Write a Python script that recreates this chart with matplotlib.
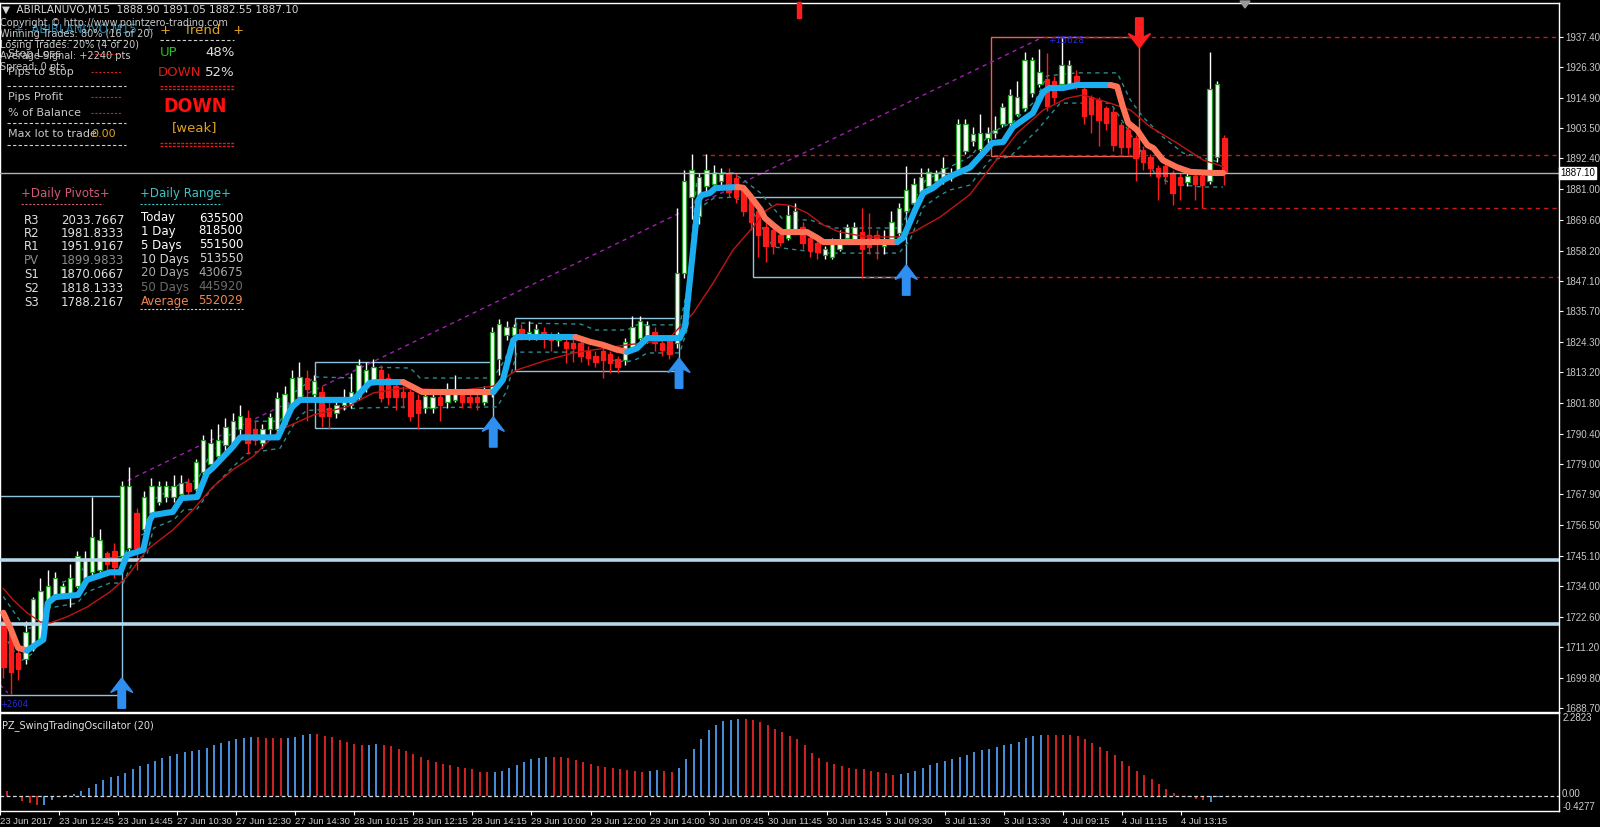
# %%
import numpy as np
import matplotlib
matplotlib.use('Agg')
from matplotlib import pyplot as plt
from matplotlib.patches import Rectangle, Polygon
from matplotlib.lines import Line2D

plt.rcParams['font.family'] = ['DejaVu Sans']

# %% data (ABIRLANUVO, M15)
opens = [1721, 1717, 1709, 1707, 1711, 1714, 1726, 1730, 1731, 1731,
         1734, 1737, 1739, 1740, 1746, 1747, 1745, 1748, 1761, 1755,
         1761, 1765, 1767, 1767, 1768, 1772, 1770, 1776, 1779, 1782,
         1786, 1787, 1792, 1796, 1792, 1787, 1792, 1792, 1794, 1800,
         1804, 1811, 1805, 1806, 1800, 1798, 1801, 1801, 1804, 1807.5,
         1810, 1814, 1811, 1808, 1806, 1806, 1803, 1800, 1800, 1804,
         1802, 1803, 1805, 1804, 1804, 1802, 1805, 1818, 1827, 1827,
         1829, 1826, 1827, 1828, 1827, 1825, 1824.5, 1824, 1824, 1821,
         1819, 1821, 1820, 1818, 1817.5, 1822, 1826, 1826, 1828, 1824,
         1825, 1824, 1850, 1878, 1871, 1882, 1883, 1884, 1887, 1885,
         1881, 1878, 1873, 1867, 1866, 1864, 1863, 1866, 1867, 1863,
         1861, 1856.6, 1856, 1859, 1863, 1862, 1865, 1864, 1864, 1860,
         1862, 1864.6, 1873, 1876, 1880, 1882, 1884, 1884, 1885, 1888,
         1895, 1899, 1896, 1900, 1902, 1905, 1905.5, 1909, 1911, 1916.6,
         1920, 1922, 1921, 1920, 1920, 1923, 1918, 1915, 1914, 1911,
         1909.6, 1904.8, 1903, 1900, 1895.5, 1893, 1889, 1889.5, 1887, 1885.5,
         1883.6, 1886, 1886, 1884, 1893, 1900]
highs = [1724, 1719, 1712, 1721, 1730, 1737, 1740, 1739, 1735, 1742,
         1747, 1747, 1767, 1755, 1747, 1750, 1773, 1778, 1763, 1769,
         1774, 1773, 1773, 1775, 1775, 1774, 1781, 1790, 1792, 1794,
         1796, 1798, 1801, 1799, 1795, 1794, 1798, 1806, 1808, 1814,
         1817, 1814, 1812, 1808, 1802, 1803, 1807, 1813, 1818, 1817,
         1818, 1816, 1813, 1810, 1808, 1807, 1805, 1806, 1806, 1806,
         1809, 1812, 1807, 1806, 1806, 1808, 1830, 1833, 1832, 1831,
         1831, 1832, 1831, 1830, 1828, 1828, 1826, 1826, 1825, 1823,
         1821, 1822, 1821, 1819, 1826, 1834, 1834, 1832, 1830, 1826,
         1827, 1874, 1888, 1894, 1887, 1894, 1890, 1889, 1889, 1887,
         1882, 1879, 1875, 1869, 1867, 1866, 1875, 1876, 1869, 1864,
         1862, 1860, 1863, 1866, 1868, 1869, 1874, 1872, 1866, 1866,
         1873, 1876, 1889.6, 1885, 1889, 1889, 1888, 1893, 1889, 1907,
         1907, 1904, 1909, 1904, 1908, 1913, 1918, 1921, 1932, 1930,
         1933, 1931.4, 1923, 1937.4, 1929, 1925, 1919, 1916, 1915, 1912,
         1911, 1906, 1905, 1901, 1897, 1894, 1890, 1891, 1888, 1887,
         1888, 1887, 1887, 1931.8, 1921, 1901]
lows = [1700, 1694, 1699, 1705, 1710, 1713, 1725, 1729, 1730, 1726,
        1733, 1735, 1738, 1739, 1738, 1737, 1743, 1745, 1740, 1754,
        1760, 1764, 1765, 1765, 1767, 1768, 1769, 1775, 1778, 1781,
        1784, 1785, 1790, 1783, 1786, 1785, 1790, 1791, 1793, 1799,
        1802, 1795, 1803, 1793, 1792, 1796, 1799, 1800, 1803, 1806,
        1809, 1802, 1801, 1799, 1800, 1795, 1792, 1798, 1798, 1795,
        1800, 1802, 1800, 1800, 1799, 1801, 1804, 1812, 1825, 1825,
        1825, 1825, 1825, 1822, 1821, 1823, 1816.5, 1817, 1817, 1816,
        1815, 1811, 1813, 1813, 1816, 1821, 1825, 1824, 1821, 1819,
        1818, 1822, 1848, 1870, 1868, 1880, 1881, 1882, 1878, 1876,
        1871, 1866, 1856, 1854, 1857, 1860, 1862, 1865, 1859, 1856,
        1855, 1855, 1855, 1858, 1862, 1861, 1848, 1857, 1855, 1857,
        1861, 1863, 1872, 1875, 1879, 1881, 1883, 1883, 1884, 1887,
        1894, 1897, 1895, 1898, 1900, 1904, 1904, 1908, 1910, 1915,
        1919, 1910, 1913, 1919, 1919, 1918, 1905, 1902, 1897, 1903,
        1895, 1894, 1894, 1884, 1888, 1886, 1877, 1883, 1875, 1877,
        1882, 1877, 1874, 1883, 1891, 1882.5]
closes = [1704, 1702, 1703, 1717, 1729, 1732, 1734, 1737, 1734, 1737,
          1745, 1744, 1752, 1751, 1742, 1741, 1771, 1771, 1748, 1767,
          1771, 1771, 1771, 1771, 1772, 1769, 1780, 1788, 1787, 1788,
          1793, 1795, 1797, 1787, 1788, 1792, 1796.5, 1803.5, 1805, 1811,
          1811.5, 1807, 1810, 1797, 1797, 1801, 1803, 1806, 1816, 1814,
          1815, 1803.5, 1804, 1804, 1804, 1797, 1798, 1804.5, 1804, 1801,
          1807, 1806, 1802, 1802, 1802, 1806, 1828, 1831, 1830, 1830,
          1827, 1828, 1829, 1827, 1825, 1826, 1822, 1822, 1819, 1818.5,
          1817, 1817.5, 1816.5, 1815, 1824.5, 1830, 1832, 1830.5, 1824, 1821.5,
          1820, 1850, 1884, 1888, 1885.5, 1888, 1887, 1886.5, 1880, 1878,
          1873, 1869, 1864, 1860, 1860, 1861.5, 1871.5, 1873, 1861, 1858.5,
          1857.7, 1859, 1862, 1862, 1867, 1867, 1859, 1859.6, 1861, 1862,
          1869, 1874, 1880.7, 1883, 1885.5, 1887.4, 1887, 1889, 1887, 1905,
          1905, 1901.5, 1902, 1902, 1903, 1911.3, 1915.9, 1915, 1929, 1929,
          1924.3, 1912, 1915, 1927, 1927, 1919.6, 1908, 1909, 1906.6, 1905.5,
          1897.4, 1896.6, 1896.6, 1892.5, 1891, 1889, 1886, 1886, 1879.6, 1882.5,
          1886, 1883, 1882.5, 1918, 1920, 1887.1]

# swing trading oscillator, one bar per candle; 1 = blue (rising), 0 = red
osc_values = [0.12, -0.05, -0.15, -0.2, -0.27, -0.25, -0.13, -0.02, 0.02, 0.05,
              0.12, 0.2, 0.32, 0.43, 0.5, 0.55, 0.63, 0.73, 0.81, 0.88,
              0.96, 1.03, 1.1, 1.16, 1.21, 1.23, 1.25, 1.32, 1.4, 1.46,
              1.51, 1.56, 1.6, 1.63, 1.63, 1.6, 1.58, 1.58, 1.59, 1.63,
              1.67, 1.7, 1.7, 1.65, 1.61, 1.54, 1.48, 1.43, 1.4, 1.41,
              1.43, 1.4, 1.37, 1.3, 1.24, 1.16, 1.07, 0.98, 0.92, 0.87,
              0.84, 0.79, 0.76, 0.72, 0.65, 0.64, 0.65, 0.68, 0.76, 0.85,
              0.92, 1.0, 1.05, 1.07, 1.07, 1.06, 1.03, 0.98, 0.93, 0.88,
              0.82, 0.78, 0.75, 0.72, 0.7, 0.68, 0.66, 0.68, 0.7, 0.68,
              0.64, 0.77, 1.0, 1.3, 1.55, 1.8, 1.95, 2.05, 2.1, 2.12,
              2.13, 2.1, 2.03, 1.95, 1.85, 1.75, 1.65, 1.55, 1.39, 1.18,
              1.03, 0.94, 0.87, 0.81, 0.76, 0.74, 0.72, 0.67, 0.65, 0.61,
              0.58, 0.6, 0.63, 0.69, 0.76, 0.85, 0.9, 0.96, 1.0, 1.07,
              1.12, 1.21, 1.25, 1.3, 1.34, 1.39, 1.43, 1.48, 1.58, 1.66,
              1.68, 1.68, 1.68, 1.68, 1.68, 1.66, 1.57, 1.45, 1.34, 1.24,
              1.12, 0.96, 0.82, 0.69, 0.56, 0.45, 0.31, 0.18, 0.06, -0.02,
              -0.05, -0.09, -0.13, -0.18, -0.05, -0.02]
osc_rising = [0] * 5 + [1] * 29 + [0] * 4 + [1] * 4 + [0] * 7 + [1] * 2 + [0] * 15 + \
             [1] * 8 + [0] * 13 + [1] * 2 + [0] * 2 + [1] * 9 + [0] * 21 + [1] * 20 + \
             [0] * 22 + [1] * 3

# thick trend line (corner points), colour flips at these x
trend_x = [0, 1, 2, 3.2, 5.4, 6, 7, 10.1, 11.3, 14.4, 15.8, 16.7, 18.9, 19.8, 20.2, 22.9,
           24.1, 26.2, 27.5, 28.3, 31, 32, 37.1, 39, 40.1, 47.3, 49.5, 50.5, 54, 55.6,
           56.6, 66.2, 67.5, 68.9, 69.4, 77.3, 79.3, 81, 82.9, 84.3, 85.6, 87, 91.4, 92.1,
           93.2, 93.9, 94.4, 95.5, 96.2, 99.2, 100, 100.9, 102.3, 102.9, 104, 105.2, 108.6,
           110, 110.8, 120.8, 121.6, 123.2, 124.3, 125.6, 127, 128.3, 130.6, 132.4, 133.6,
           135.1, 136.4, 139.1, 140.5, 141.4, 143.2, 145.1, 149.6, 150.5, 151.3, 152, 153.2,
           154.6, 155.4, 156.7, 158.6, 160.4, 163.5, 164.8]
trend_y = [1724, 1718, 1711, 1710, 1714, 1727.6, 1729.8, 1730.6, 1736.2, 1739, 1739, 1745.4,
           1747.3, 1758.4, 1760.2, 1761.4, 1766.5, 1766.9, 1775.8, 1777.7, 1785.5, 1789, 1789,
           1800.3, 1802.9, 1802.9, 1809.2, 1809.5, 1809.5, 1807.3, 1805.8, 1805.8, 1810.3,
           1825, 1826.2, 1826.2, 1824.4, 1823.3, 1821.5, 1820.7, 1822, 1825.8, 1825.8, 1829.9,
           1858.5, 1877, 1878.8, 1879.6, 1881.4, 1881.8, 1881.5, 1878.5, 1873.5, 1870.3,
           1867.7, 1865.1, 1865.1, 1862.9, 1861.4, 1861.4, 1863, 1873.3, 1879.6, 1881.4,
           1884.4, 1886.2, 1889, 1894.4, 1898.1, 1898.5, 1904, 1909.2, 1917, 1918.5, 1918.5,
           1919.6, 1919.6, 1919, 1911.3, 1905.5, 1902.9, 1897.3, 1896.2, 1891.7, 1889.1,
           1887.4, 1887, 1887]
trend_flips = [3.2, 54, 66.2, 77.3, 84.3, 99.2, 120.8, 149.6]

upper_x = [0, 2, 3.2, 5.4, 6.3, 10.1, 11.3, 16.2, 17.6, 19.4, 20.3, 24.1, 26.2, 28, 31, 32.5,
           37.4, 39.5, 42.1, 47.5, 50, 55, 56.3, 66.2, 67.8, 69.4, 78, 80, 84.3, 85.6, 91.4,
           92.5, 93.7, 96, 98.6, 100, 102.3, 105.4, 109, 112.1, 121.2, 123.3, 124.5, 127,
           130.6, 133.5, 136.5, 139.5, 141, 145.1, 150.5, 152.3, 154, 156.7, 159.4, 164.8]
upper_y = [1730, 1722, 1718, 1720, 1734, 1737, 1743, 1745, 1751, 1754, 1766, 1772, 1773,
           1783, 1791, 1795, 1795, 1806, 1811.4, 1811, 1815, 1814.7, 1811, 1811, 1818,
           1831.4, 1831, 1828.8, 1828.8, 1830.7, 1830.7, 1845, 1884.4, 1887, 1887, 1884.4,
           1879.6, 1869.6, 1869.6, 1866.6, 1866.6, 1878, 1884, 1888, 1893, 1902, 1906, 1914,
           1923, 1924.1, 1924.1, 1914, 1907.7, 1900.3, 1894.4, 1890.7]
lower_x = [0, 2.3, 4, 5.4, 6.3, 10, 11.3, 14.4, 16.2, 17.6, 19.4, 20.3, 23, 24.3, 26.2, 28,
           31, 32.9, 37.4, 39.7, 41, 48.6, 55, 57, 66.7, 68, 69.4, 77.3, 78.5, 84.3, 85.6,
           87, 91.4, 92.5, 93.7, 96, 98.6, 100.5, 102.5, 104, 110.8, 121, 122.5, 124.3,
           126.6, 127.9, 130.6, 133.3, 136, 139.7, 142.8, 149.6, 151.5, 153, 155.9, 158,
           162, 164.8]
lower_y = [1716, 1706, 1709, 1717.6, 1725.8, 1727.6, 1731.7, 1735, 1735, 1743.6, 1745.4,
           1755.4, 1758.4, 1762, 1762.5, 1769.5, 1778, 1783, 1785, 1796, 1799, 1799.9,
           1800.3, 1800, 1800.3, 1806, 1820.6, 1820.6, 1818.8, 1817, 1818, 1820.3, 1820.3,
           1830, 1873.3, 1877.7, 1878, 1876, 1867, 1859.6, 1857.3, 1857.3, 1862, 1874.4,
           1878.8, 1880.7, 1882.5, 1891.8, 1893, 1902.9, 1912.9, 1912.9, 1905, 1898,
           1885.5, 1883, 1881.8, 1881.8]

ma_x = [0, 1.3, 3.2, 5, 6.3, 8.6, 11.3, 14.4, 16.7, 19.4, 22.9, 25.6, 28.3, 31, 33.7, 37.4,
        41.9, 46.4, 50, 54, 57.7, 62, 66.2, 69.4, 73.5, 77, 84.3, 89.7, 93.2, 95.9, 98.6,
        101.3, 103, 104.5, 106.3, 108.6, 110.8, 113, 116.7, 120.8, 122.9, 126.6, 130.6,
        132.4, 137, 140.5, 143.7, 145.9, 149.1, 152.3, 155, 158.6, 162.1, 164.8]
ma_y = [1733, 1728.8, 1724, 1720.6, 1720.2, 1722.5, 1726.1, 1731.7, 1737.3, 1747.3, 1754.7,
        1762.1, 1770.6, 1777, 1781.8, 1791.8, 1797.3, 1800.3, 1805.5, 1807.3, 1806.8,
        1806.5, 1808, 1814, 1817.7, 1820.3, 1823.3, 1825, 1835, 1846.2, 1858.5, 1867,
        1873, 1875.5, 1875, 1872.2, 1867.7, 1865.1, 1863.3, 1863.3, 1865, 1870.7, 1879,
        1885.5, 1901.8, 1910.3, 1914.7, 1915.9, 1913.3, 1910.3, 1904, 1898.1, 1891.8, 1889.4]

# consolidation boxes: (x0, x1, low, high)
blue_boxes = [(-1, 16.0, 1693.5, 1767.3), (42.1, 66.2, 1792.5, 1816.9),
              (69.1, 91.3, 1813.6, 1833.3), (101.3, 121.9, 1848.5, 1878.1)]
swing_box = (133.5, 153.5, 1893.3, 1937.4)
support_levels = [1743.6, 1719.9]
last_price = 1887.10
red_levels = [(140.5, 1937.4), (94.4, 1893.6), (158.6, 1874.0), (116.4, 1848.4)]
buy_arrows = [(16, 1699.8), (66.2, 1796.6), (91.3, 1818.4), (122.0, 1852.9)]
sell_arrows = [(153.5, 1933.3)]
swing_line = [(16.8, 1773), (140.5, 1937.4)]

price_ticks = [1937.40, 1926.30, 1914.90, 1903.50, 1892.40, 1881.00, 1869.60, 1858.20,
               1847.10, 1835.70, 1824.30, 1813.20, 1801.80, 1790.40, 1779.00, 1767.90,
               1756.50, 1745.10, 1734.00, 1722.60, 1711.20, 1699.80, 1688.70]
date_labels = ['23 Jun 2017', '23 Jun 12:45', '23 Jun 14:45', '27 Jun 10:30', '27 Jun 12:30',
               '27 Jun 14:30', '28 Jun 10:15', '28 Jun 12:15', '28 Jun 14:15', '29 Jun 10:00',
               '29 Jun 12:00', '29 Jun 14:00', '30 Jun 09:45', '30 Jun 11:45', '30 Jun 13:45',
               '3 Jul 09:30', '3 Jul 11:30', '3 Jul 13:30', '4 Jul 09:15', '4 Jul 11:15',
               '4 Jul 13:15']

pivot_names = ['R3', 'R2', 'R1', 'PV', 'S1', 'S2', 'S3']
pivot_values = ['2033.7667', '1981.8333', '1951.9167', '1899.9833', '1870.0667',
                '1818.1333', '1788.2167']
range_names = ['Today', '1 Day', '5 Days', '10 Days', '20 Days', '50 Days', 'Average']
range_values = ['635500', '818500', '551500', '513550', '430675', '445920', '552029']

# %% figure
W, H = 1600, 827
AXFONT = 'Liberation Sans'
fig = plt.figure(figsize=(W / 100, H / 100), dpi=100, facecolor='black')
ax = fig.add_axes([0, 1 - 711.5 / H, 1559 / W, 708.5 / H], facecolor='black')
axo = fig.add_axes([0, 1 - 811 / H, 1559 / W, 98 / H], facecolor='black')

XMIN, XMAX = -0.45, 210.2
for a in (ax, axo):
    a.set_xlim(XMIN, XMAX)
    for s in a.spines.values():
        s.set_color('white')
        s.set_linewidth(1)
ax.set_ylim(1687.4, 1950.0)
axo.set_ylim(-0.4277, 2.2823)

BLUE_BOX = '#8fc3df'
SALMON = '#ff7255'
TREND_BLUE = '#1aaef0'
RED = '#ff1a1a'

idx = np.arange(len(closes))
o, h, l, c = (np.array(v, dtype=float) for v in (opens, highs, lows, closes))
up = c >= o

# boxes and levels
for x0, x1, lo, hi in blue_boxes:
    ax.add_patch(Rectangle((x0, lo), x1 - x0, hi - lo, fill=False, ec=BLUE_BOX, lw=1, zorder=2))
x0, x1, lo, hi = swing_box
ax.add_patch(Rectangle((x0, lo), x1 - x0, hi - lo, fill=False, ec='#f06050', lw=1, zorder=2))
for lvl in support_levels:
    ax.axhline(lvl, color='#b4d8ea', lw=2.6, zorder=5)
ax.axhline(last_price, color='#a9b3bd', lw=1, zorder=5)
for xs, lvl in red_levels:
    ax.plot([xs, XMAX], [lvl, lvl], color='#d01818', lw=1, ls=(0, (3, 3)), zorder=2)
ax.plot(*zip(*swing_line), color='#a020b0', lw=1, ls=(0, (3, 3)), zorder=2)
ax.plot([-0.45, 0.6], [1697.3, 1694.3], color='#a020b0', lw=1, ls=(0, (3, 3)), zorder=2)

# envelopes
ax.plot(upper_x, upper_y, color='#2a8c8c', lw=1, ls=(0, (3, 3)), zorder=2)
ax.plot(lower_x, lower_y, color='#2a8c8c', lw=1, ls=(0, (3, 3)), zorder=2)

# candles
ax.vlines(idx[up], l[up], h[up], color='white', lw=1, zorder=3)
ax.vlines(idx[~up], l[~up], h[~up], color=RED, lw=1, zorder=3)
body_lo = np.minimum(o, c)
body_h = np.maximum(np.abs(c - o), 0.5)
ax.bar(idx[up], body_h[up], bottom=body_lo[up], width=0.6, color='white',
       edgecolor='#22a422', linewidth=0.9, zorder=4)
ax.bar(idx[~up], body_h[~up], bottom=body_lo[~up], width=0.6, color=RED,
       edgecolor=RED, linewidth=0.9, zorder=4)

# moving average
ax.plot(ma_x, ma_y, color='#c01414', lw=1, zorder=6)

# thick trend line, split at colour flips
seg_x, seg_y, rising = [], [], False
for tx, ty in zip(trend_x, trend_y):
    seg_x.append(tx)
    seg_y.append(ty)
    if tx in trend_flips:
        ax.plot(seg_x, seg_y, color=TREND_BLUE if rising else SALMON, lw=4.4,
                solid_joinstyle='round', solid_capstyle='round', zorder=7)
        seg_x, seg_y, rising = [tx], [ty], not rising
ax.plot(seg_x, seg_y, color=TREND_BLUE if rising else SALMON, lw=4.4,
        solid_joinstyle='round', solid_capstyle='round', zorder=7)


# signal arrows (tip at y, body away from price)
def arrow(xc, tip, color, down=False, w=3.0, hgt=11.2):
    shape = [(0, 0), (0.5, 0.48), (0.17, 0.36), (0.17, 1.0),
             (-0.17, 1.0), (-0.17, 0.36), (-0.5, 0.48)]
    sgn = 1 if down else -1
    pts = [(xc + px * w, tip + sgn * py * hgt) for px, py in shape]
    ax.add_patch(Polygon(pts, closed=True, color=color, zorder=8, clip_on=False))


for xa, ya in buy_arrows:
    arrow(xa, ya, '#2e8ff0')
for xa, ya in sell_arrows:
    arrow(xa, ya, '#ff1e1e', down=True)
ax.add_patch(Rectangle((107.3, 1944.4), 0.5, 6.0, color='#ff1e1e', zorder=8, clip_on=False))

ax.text(-0.4, 1691.5, '+2604', color='#2a2ad8', fontsize=6, va='top', zorder=9)
ax.text(141.2, 1934.5, '+15628', color='#2a2ad8', fontsize=6.5, va='bottom', zorder=9)

# right price axis
ax.yaxis.tick_right()
ax.set_yticks(price_ticks)
ax.set_yticklabels([f'{v:.2f}' for v in price_ticks], family=AXFONT)
ax.tick_params(axis='y', colors='white', labelcolor='#c8c8c8', labelsize=7,
               length=3, width=0.8, pad=1.5)
ax.tick_params(axis='x', bottom=False, labelbottom=False)
ax.text(1.0006, last_price, f'{last_price:.2f}', transform=ax.get_yaxis_transform(),
        ha='left', va='center', fontsize=7, family=AXFONT, color='black', zorder=10,
        bbox=dict(facecolor='white', edgecolor='white', pad=0.8))

# oscillator panel
osc_v = np.array(osc_values)
osc_c = np.where(np.array(osc_rising) == 1, '#4a90dc', '#d42222')
axo.vlines(idx, 0, osc_v, colors=osc_c, lw=1.4)
axo.axhline(0, color='#d8d8d8', lw=0.9, ls=(0, (3, 2)))
axo.set_yticks([])
axo.set_xticks([-1 + 8 * k for k in range(len(date_labels))])
axo.set_xticklabels(date_labels, ha='left', family=AXFONT)
axo.tick_params(axis='x', colors='white', labelcolor='#d0d0d0', labelsize=6.8,
                length=3, width=0.8, pad=1)
yt = axo.get_yaxis_transform()
for val, txt, va in ((2.2823, '2.2823', 'top'), (0.05, '0.00', 'center'),
                     (-0.17, '-0.4277', 'top')):
    axo.text(1.002, val, txt, transform=yt, ha='left', va=va, fontsize=7,
             family=AXFONT, color='#d0d0d0')
axo.text(0.0015, 0.93, 'PZ_SwingTradingOscillator (20)', transform=axo.transAxes,
         ha='left', va='top', fontsize=7, color='#e0e0e0')


# %% text overlays in pixel coordinates
def ftxt(x, y, s, **kw):
    kw.setdefault('va', 'center')
    kw.setdefault('fontsize', 8)
    fig.text(x / W, 1 - y / H, s, **kw)


def fline(x0, x1, y, color, ls=(0, (3, 2)), lw=0.8):
    fig.add_artist(Line2D([x0 / W, x1 / W], [1 - y / H, 1 - y / H], transform=fig.transFigure,
                          color=color, ls=ls, lw=lw))


ftxt(14, 30, '+  ABIRLANUVO,M15  +', color='#2f7fa0', fontsize=8.5)
ftxt(2, 10, '▼  ABIRLANUVO,M15  1888.90 1891.05 1882.55 1887.10', color='#d8d8d8', fontsize=7.5)
ftxt(0, 23, 'Copyright © http://www.pointzero-trading.com', color='#c8c8c8', fontsize=7)
ftxt(0, 34, 'Winning Trades: 80% (16 of 20)', color='#c8c8c8', fontsize=7)
ftxt(0, 45, 'Losing Trades: 20% (4 of 20)', color='#c8c8c8', fontsize=7)
ftxt(0, 56, 'Average Signal: +2240 pts', color='#c8c8c8', fontsize=7)
ftxt(0, 67, 'Spread: 0 pts', color='#c8c8c8', fontsize=7)
fline(7, 126, 40, '#d0d0d0')
ftxt(8, 54, 'Stop Loss', color='#c8c8c8', fontsize=8)
ftxt(8, 72, 'Pips to Stop', color='#c8c8c8', fontsize=8)
fline(7, 126, 86, '#d0d0d0')
ftxt(8, 97, 'Pips Profit', color='#c8c8c8', fontsize=8)
ftxt(8, 113, '% of Balance', color='#c8c8c8', fontsize=8)
fline(7, 126, 123, '#d0d0d0')
ftxt(8, 134, 'Max lot to trade', color='#c8c8c8', fontsize=8)
ftxt(91, 134, '0.00', color='#e0a020', fontsize=8)
fline(7, 126, 145, '#d0d0d0')
for yy in (54, 72, 97, 113):
    fline(91, 122, yy, '#d42020', ls=(0, (2, 1.5)))

ftxt(160, 31, '+   Trend   +', color='#e0a020', fontsize=9.5)
fline(160, 234, 40, '#d0d0d0')
ftxt(160, 53, 'UP', color='#22c022', fontsize=9.5)
ftxt(205, 53, '48%', color='#e0e0e0', fontsize=9.5)
ftxt(158, 72, 'DOWN', color='#e01a1a', fontsize=9.5)
ftxt(205, 72, '52%', color='#e0e0e0', fontsize=9.5)
for yy in (86, 89, 143, 146):
    fline(160, 234, yy, '#d42020', ls=(0, (2, 1)), lw=1)
ftxt(195, 107, 'DOWN', color='#ff1010', fontsize=14, weight='bold', ha='center',
     fontstretch='condensed')
ftxt(195, 128, '[weak]', color='#e0a020', fontsize=9.5, ha='center')

ftxt(21, 194, '+Daily Pivots+', color='#d05a78', fontsize=8.5)
fline(21, 103, 204, '#d05a78', ls=(0, (2, 1.5)))
ftxt(140, 194, '+Daily Range+', color='#3ec4c4', fontsize=8.5)
fline(140, 222, 204, '#3ec4c4', ls=(0, (2, 1.5)))
pivot_rows = [220, 233.5, 247, 261, 274.5, 288, 302]
for name, val, yy in zip(pivot_names, pivot_values, pivot_rows):
    col = '#8a8a8a' if name == 'PV' else '#e0e0e0'
    ftxt(24, yy, name, color=col, fontsize=8.5)
    ftxt(124, yy, val, color=col, fontsize=8.5, ha='right')
range_rows = [218, 231, 245, 259, 272.5, 287, 301]
range_cols = ['#ffffff', '#ffffff', '#ffffff', '#d4d4d4', '#a8a8a8', '#6c6c6c', '#f08850']
for name, val, yy, col in zip(range_names, range_values, range_rows, range_cols):
    ftxt(141, yy, name, color=col, fontsize=8.5)
    ftxt(243, yy, val, color=col, fontsize=8.5, ha='right')
fline(140, 243, 309, '#f0c090', ls=(0, (2, 1.5)))

# chart shift marker
fig.add_artist(Polygon([(1240 / W, 1 - 1 / H), (1250 / W, 1 - 1 / H), (1245 / W, 1 - 8 / H)],
                       closed=True, transform=fig.transFigure, color='#9a9a9a'))

fig.savefig('out.png', dpi=100, facecolor='black')
